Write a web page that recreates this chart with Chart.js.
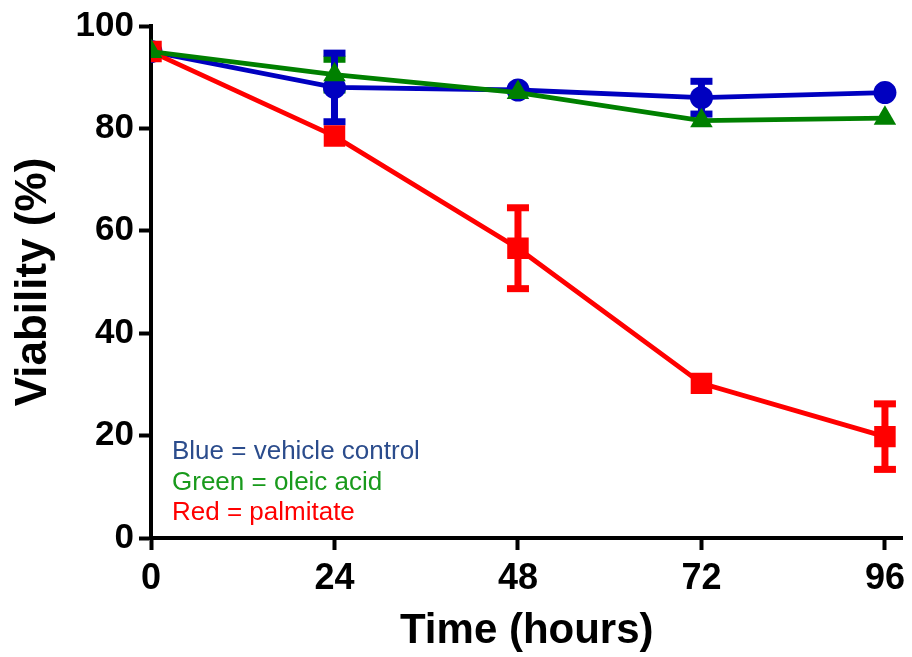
<!DOCTYPE html>
<html>
<head>
<meta charset="utf-8">
<title>Viability</title>
<script src="https://cdn.jsdelivr.net/npm/chart.js@4.4.0/dist/chart.umd.min.js"></script>
<style>
  html, body { margin: 0; padding: 0; background: #fff; }
  #wrap { width: 912px; height: 657px; }
</style>
</head>
<body>
<div id="wrap"><canvas id="myChart" width="912" height="657"></canvas></div>
<script>
// time points (hours)
var hours = [0, 24, 48, 72, 96];
var xTicks = [0, 24, 48, 72, 96];
var yTicks = [0, 20, 40, 60, 80, 100];

// mean viability (%) and error (+/-) for each group
var blueMean = [95, 88, 87.5, 86, 87];
var blueErr = [0, 6.7, 0, 3.2, 0];
var greenMean = [95, 90.5, 87, 81.5, 82];
var greenErr = [0, 3, 0, 0, 0];
var redMean = [95, 78.5, 56.6, 30.2, 19.8];
var redErr = [0, 0, 7.9, 0, 6.4];

// the little key written inside the plot
var keyText = ["Blue = vehicle control", "Green = oleic acid", "Red = palmitate"];
var keyColor = ["#2b4c8c", "#199a1c", "#ff0000"];

var FONT = "'Liberation Sans', Arial, sans-serif";

function toPoints(xs, ys, es) {
  var pts = [];
  for (var i = 0; i < xs.length; i++) {
    pts.push({ x: xs[i], y: ys[i], err: es[i] });
  }
  return pts;
}

// error bars go under the markers
var errorBars = {
  id: "errorBars",
  beforeDatasetsDraw: function (chart) {
    var ctx = chart.ctx;
    var xs = chart.scales.x, ys = chart.scales.y;
    var order = [2, 1, 0]; // blue, red, green
    ctx.save();
    order.forEach(function (di) {
      var ds = chart.data.datasets[di];
      ctx.fillStyle = ds.borderColor;
      ds.data.forEach(function (p) {
        if (!p.err) return;
        var px = xs.getPixelForValue(p.x);
        var top = ys.getPixelForValue(p.y + p.err);
        var bot = ys.getPixelForValue(p.y - p.err);
        ctx.fillRect(px - 3.5, top, 7, bot - top);
        ctx.fillRect(px - 11, top - 3.5, 22, 7);
        ctx.fillRect(px - 11, bot - 3.5, 22, 7);
      });
    });
    ctx.restore();
  }
};

var keyPlugin = {
  id: "keyText",
  afterDraw: function (chart) {
    var ctx = chart.ctx;
    ctx.save();
    ctx.font = "26px " + FONT;
    ctx.textAlign = "left";
    ctx.textBaseline = "alphabetic";
    for (var i = 0; i < keyText.length; i++) {
      ctx.fillStyle = keyColor[i];
      ctx.fillText(keyText[i], 172, 459 + i * 30.5);
    }
    ctx.restore();
  }
};

var config = {
  type: "line",
  data: {
    datasets: [{
      label: "Blue = vehicle control",
      data: toPoints(hours, blueMean, blueErr),
      borderColor: "#0000c0",
      backgroundColor: "#0000c0",
      borderWidth: 4.8,
      pointStyle: "circle",
      pointRadius: 11.5,
      pointBorderWidth: 0,
      order: 2
    }, {
      label: "Green = oleic acid",
      data: toPoints(hours, greenMean, greenErr),
      borderColor: "#008000",
      backgroundColor: "#008000",
      borderWidth: 4.8,
      pointStyle: "triangle",
      pointRadius: 13,
      pointBorderWidth: 0,
      order: 0
    }, {
      label: "Red = palmitate",
      data: toPoints(hours, redMean, redErr),
      borderColor: "#ff0000",
      backgroundColor: "#ff0000",
      borderWidth: 4.8,
      pointStyle: "rect",
      pointRadius: 15.2,
      pointBorderWidth: 0,
      order: 1
    }]
  },
  options: {
    responsive: false,
    animation: false,
    layout: { autoPadding: false, padding: { left: 0, right: 2, top: 25, bottom: 0 } },
    plugins: {
      legend: { display: false },
      tooltip: { enabled: false }
    },
    scales: {
      x: {
        type: "linear",
        min: 0,
        max: 98.3,
        afterBuildTicks: function (scale) {
          scale.ticks = xTicks.map(function (v) { return { value: v }; });
        },
        afterFit: function (scale) { scale.height = 119; },
        border: { display: true, width: 4, color: "#000" },
        grid: { drawOnChartArea: false, drawTicks: true, tickLength: 12, tickWidth: 4, tickColor: "#000" },
        ticks: { color: "#000", font: { family: FONT, size: 36, weight: "bold" }, padding: 7, maxRotation: 0 },
        title: {
          display: true,
          text: "Time (hours)",
          color: "#000",
          font: { family: FONT, size: 42, weight: "bold" },
          padding: { top: 0, bottom: 0 }
        }
      },
      y: {
        min: 0,
        max: 100,
        afterBuildTicks: function (scale) {
          scale.ticks = yTicks.map(function (v) { return { value: v }; });
        },
        afterFit: function (scale) { scale.width = 151; },
        border: { display: true, width: 4, color: "#000" },
        grid: { drawOnChartArea: false, drawTicks: true, tickLength: 12, tickWidth: 4, tickColor: "#000" },
        ticks: { color: "#000", font: { family: FONT, size: 35, weight: "bold" }, padding: 5 },
        title: {
          display: true,
          text: "Viability (%)",
          color: "#000",
          font: { family: FONT, size: 44, weight: "bold" },
          padding: { top: 7, bottom: 0 }
        }
      }
    }
  },
  plugins: [errorBars, keyPlugin]
};

var myChart = new Chart(document.getElementById("myChart"), config);
</script>
</body>
</html>
